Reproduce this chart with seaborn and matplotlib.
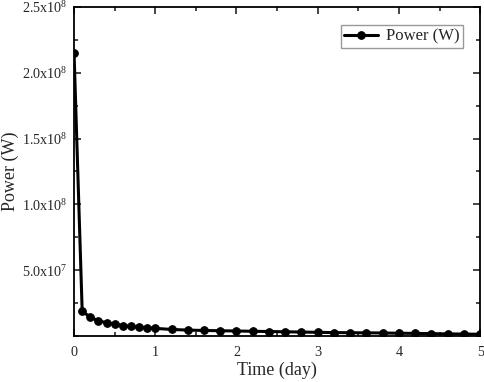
import matplotlib
matplotlib.use("Agg")
import matplotlib.pyplot as plt
import seaborn as sns
import pandas as pd
from matplotlib.ticker import FixedLocator, MultipleLocator

time_day = [0.0, 0.1, 0.2, 0.3, 0.4, 0.5, 0.6, 0.7, 0.8, 0.9, 1.0,
            1.2, 1.4, 1.6, 1.8, 2.0, 2.2, 2.4, 2.6, 2.8, 3.0,
            3.2, 3.4, 3.6, 3.8, 4.0, 4.2, 4.4, 4.6, 4.8, 5.0]
power_w = [2.15e8, 1.90e7, 1.42e7, 1.16e7, 1.01e7, 9.1e6, 7.9e6, 7.3e6, 6.8e6, 6.3e6, 5.8e6,
           5.0e6, 4.5e6, 4.2e6, 4.0e6, 3.8e6, 3.6e6, 3.4e6, 3.2e6, 3.0e6, 2.8e6,
           2.6e6, 2.5e6, 2.4e6, 2.3e6, 2.1e6, 2.0e6, 1.8e6, 1.6e6, 1.5e6, 1.3e6]

y_ticks = [5e7, 1e8, 1.5e8, 2e8, 2.5e8]
y_tick_labels = ["5.0x10$^{7}$", "1.0x10$^{8}$", "1.5x10$^{8}$", "2.0x10$^{8}$", "2.5x10$^{8}$"]
x_ticks = [0, 1, 2, 3, 4, 5]
x_tick_labels = ["0", "1", "2", "3", "4", "5"]

sns.set_style("ticks")
font = "Liberation Serif"
plt.rcParams["font.family"] = [font, "DejaVu Sans"]
plt.rcParams["mathtext.fontset"] = "custom"
plt.rcParams["mathtext.rm"] = font
plt.rcParams["mathtext.it"] = font

df = pd.DataFrame({"Time (day)": time_day, "Power (W)": power_w})

fig = plt.figure(figsize=(4.84, 3.82), dpi=100)
ax = fig.add_axes([0.153, 0.1204, 0.839, 0.8613])

sns.lineplot(data=df, x="Time (day)", y="Power (W)", ax=ax, color="black",
             linewidth=2.2, marker="o", markersize=5.5, markeredgecolor="black",
             label="Power (W)")

ax.set_xlim(0, 5)
ax.set_ylim(0, 2.5e8)
ax.xaxis.set_major_locator(FixedLocator(x_ticks))
ax.set_xticklabels(x_tick_labels)
ax.xaxis.set_minor_locator(MultipleLocator(0.5))
ax.yaxis.set_major_locator(FixedLocator(y_ticks))
ax.set_yticklabels(y_tick_labels)
ax.yaxis.set_minor_locator(MultipleLocator(2.5e7))

ax.tick_params(which="both", direction="in", top=True, right=True, labelsize=10.2, width=1.2)
ax.tick_params(axis="x", which="major", length=5, pad=7)
ax.tick_params(axis="y", which="major", length=5, pad=5)
ax.tick_params(which="minor", length=3)
for s in ax.spines.values():
    s.set_linewidth(1.3)
    s.set_color("black")

ax.set_xlabel("Time (day)", fontsize=13, labelpad=2)
ax.set_ylabel("Power (W)", fontsize=13)
ax.yaxis.set_label_coords(-0.136, 0.5)

leg = ax.legend(loc="upper right", bbox_to_anchor=(0.958, 0.945), borderaxespad=0,
                fontsize=12, frameon=True, fancybox=False, handlelength=2.0,
                borderpad=0.2, handletextpad=0.5)
leg.get_frame().set_edgecolor("gray")
leg.get_frame().set_linewidth(1.0)

fig.savefig("out.png", dpi=100)
